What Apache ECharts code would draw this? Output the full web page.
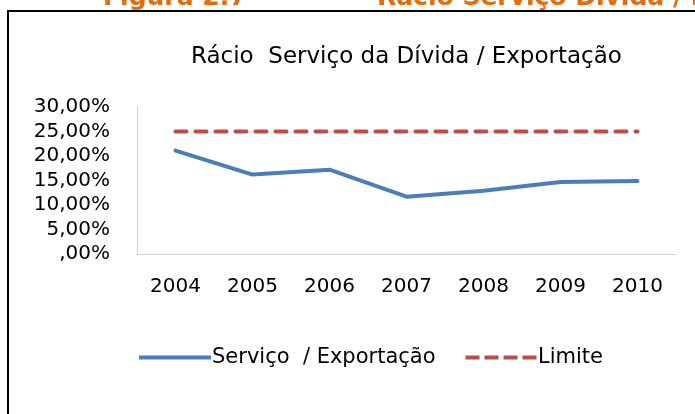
<!DOCTYPE html>
<html>
<head>
<meta charset="utf-8">
<script src="https://cdn.jsdelivr.net/npm/echarts@6/dist/echarts.min.js"></script>
<style>
  html, body { margin: 0; padding: 0; background: #fff; }
  #chart { width: 695px; height: 414px; }
</style>
</head>
<body>
<div id="chart"></div>
<script>
const years = ["2004", "2005", "2006", "2007", "2008", "2009", "2010"];
const servico = [21.1, 16.2, 17.2, 11.7, 12.9, 14.7, 14.9];
const limite = [25, 25, 25, 25, 25, 25, 25];

const font = "DejaVu Sans";
const chart = echarts.init(document.getElementById("chart"));

chart.setOption({
  backgroundColor: "#fff",
  animation: false,
  title: {
    text: "Rácio  Serviço da Dívida / Exportação",
    left: 186,
    top: 41,
    textStyle: { fontFamily: font, fontSize: 23, fontWeight: "normal", color: "#000" }
  },
  graphic: [
    {
      type: "text",
      left: 103,
      top: -14,
      style: { text: "Figura 2.7", font: "bold 25px 'DejaVu Sans'", fill: "#E46C0A" }
    },
    {
      type: "text",
      left: 377,
      top: -14,
      style: { text: "Rácio Serviço Dívida / Exportação", font: "bold 25px 'DejaVu Sans'", fill: "#E46C0A" }
    },
    {
      type: "polyline",
      shape: { points: [[8, 430], [8, 11], [700, 11]] },
      style: { stroke: "#000", lineWidth: 2, fill: null }
    }
  ],
  legend: {
    left: 139,
    top: 347,
    padding: 0,
    itemWidth: 72,
    itemHeight: 4,
    itemGap: 30,
    textStyle: { fontFamily: font, fontSize: 21, color: "#000", padding: [0, 0, 0, -4] },
    data: [
      { name: "Serviço  / Exportação", icon: "path://M0,0H72V4H0Z" },
      { name: "Limite", icon: "path://M0,0H14V4H0Z M19,0H33V4H19Z M38,0H52V4H38Z M57,0H71V4H57Z" }
    ]
  },
  grid: { left: 137, right: 19, top: 107, bottom: 160 },
  xAxis: {
    type: "category",
    data: years,
    boundaryGap: true,
    axisLine: { lineStyle: { color: "#d0d0d0", width: 1 } },
    axisTick: { show: false },
    axisLabel: { fontFamily: font, fontSize: 20, color: "#000", margin: 23 }
  },
  yAxis: {
    type: "value",
    min: 0,
    max: 30,
    interval: 5,
    splitLine: { show: false },
    axisLine: { show: true, lineStyle: { color: "#d0d0d0", width: 1 } },
    axisTick: { show: false },
    axisLabel: {
      fontFamily: font,
      fontSize: 20,
      color: "#000",
      margin: 27,
      formatter: v => (v === 0 ? "" : v) + ",00%"
    }
  },
  series: [
    {
      name: "Serviço  / Exportação",
      type: "line",
      data: servico,
      symbol: "none",
      color: "#4A7EBB",
      lineStyle: { color: "#4A7EBB", width: 4, cap: "round" }
    },
    {
      name: "Limite",
      type: "line",
      data: limite,
      symbol: "none",
      color: "#BE4B48",
      lineStyle: { color: "#BE4B48", width: 4, type: [11, 9], cap: "round" }
    }
  ]
});
</script>
</body>
</html>
